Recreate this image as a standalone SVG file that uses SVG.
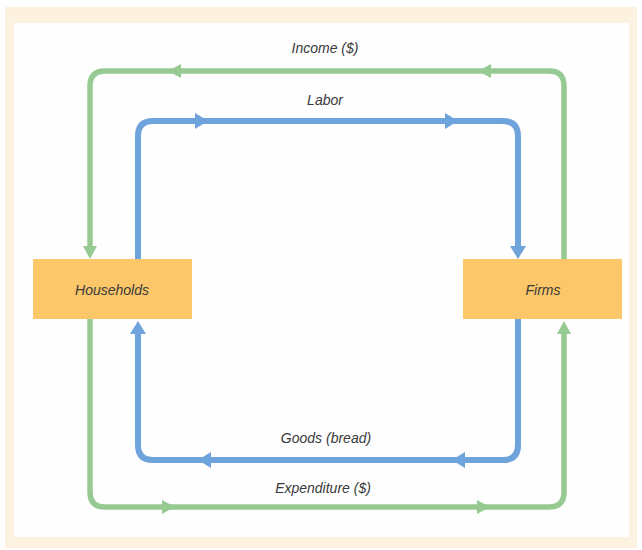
<svg xmlns="http://www.w3.org/2000/svg" width="642" height="550" viewBox="0 0 642 550">
<style>
.lbl{font-family:"Liberation Sans",Arial,sans-serif;font-style:italic;font-size:14px;fill:#3a3a3a;text-anchor:middle}
.g{fill:none;stroke:#97ca92;stroke-width:5.5}
.b{fill:none;stroke:#6fa3dc;stroke-width:6}
.box{fill:#fbc769}
</style>
<defs>
<polygon id="ahg" points="0,0 -13,-7 -13,7" fill="#97ca92"/>
<polygon id="ahb" points="0,0 -13,-8 -13,8" fill="#6fa3dc"/>
</defs>
<rect x="0" y="0" width="642" height="550" fill="#ffffff"/>
<rect x="5" y="7" width="632" height="541" fill="#fdf2df"/>
<rect x="14" y="23" width="615" height="514" fill="#fefefe"/>
<g id="connectors">
<g id="income">
<path class="g" d="M564,259 V86 Q564,71 549,71 H105 Q90,71 90,86 V250"/>
<use href="#ahg" transform="translate(168,71) rotate(180)"/>
<use href="#ahg" transform="translate(478,71) rotate(180)"/>
<use href="#ahg" transform="translate(90,259) rotate(90)"/>
<text class="lbl" x="325" y="53">Income ($)</text>
</g>
<g id="labor">
<path class="b" d="M138,259 V136 Q138,121 153,121 H503 Q518,121 518,136 V250"/>
<use href="#ahb" transform="translate(208,121)"/>
<use href="#ahb" transform="translate(458,121)"/>
<use href="#ahb" transform="translate(518,259) rotate(90)"/>
<text class="lbl" x="325" y="105">Labor</text>
</g>
<g id="goods">
<path class="b" d="M518,319 V445 Q518,460 503,460 H153 Q138,460 138,445 V330"/>
<use href="#ahb" transform="translate(452,460) rotate(180)"/>
<use href="#ahb" transform="translate(198,460) rotate(180)"/>
<use href="#ahb" transform="translate(138,321) rotate(-90)"/>
<text class="lbl" x="326" y="443">Goods (bread)</text>
</g>
<g id="expenditure">
<path class="g" d="M90,319 V492 Q90,507 105,507 H549 Q564,507 564,492 V330"/>
<use href="#ahg" transform="translate(175,507)"/>
<use href="#ahg" transform="translate(490,507)"/>
<use href="#ahg" transform="translate(564,321) rotate(-90)"/>
<text class="lbl" x="323" y="493">Expenditure ($)</text>
</g>
</g>
<g id="households">
<rect class="box" x="33" y="259" width="159" height="60"/>
<text class="lbl" x="112" y="295">Households</text>
</g>
<g id="firms">
<rect class="box" x="463" y="259" width="159" height="60"/>
<text class="lbl" x="543" y="295">Firms</text>
</g>
</svg>
